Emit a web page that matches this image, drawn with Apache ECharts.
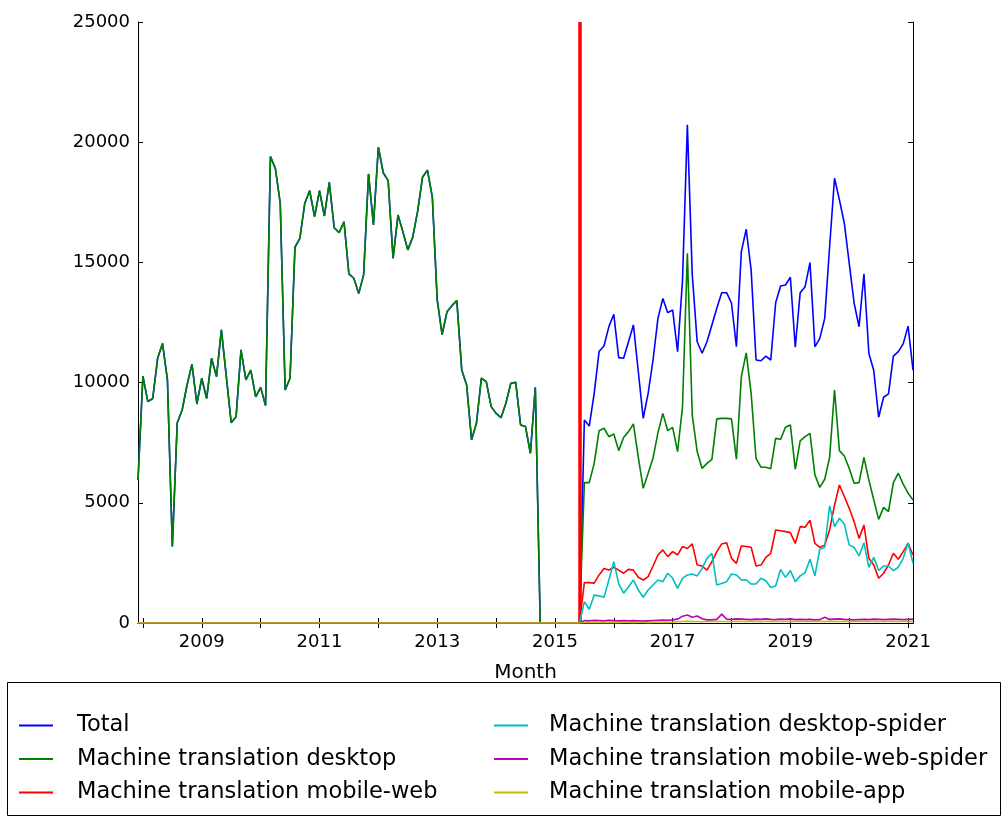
<!DOCTYPE html>
<html>
<head>
<meta charset="utf-8">
<script src="https://cdn.jsdelivr.net/npm/echarts@6/dist/echarts.min.js"></script>
<style>
html,body{margin:0;padding:0;background:#fff;}
#chart{width:1005px;height:819px;}
</style>
</head>
<body>
<div id="chart"></div>
<script>
// ---- categories: monthly, 2007-12 .. 2021-02 ----
const firstYear = 2007, firstMonth = 12, monthCount = 159;
const months = [];
for (let i = 0; i < monthCount; i++) {
  const t = firstYear * 12 + (firstMonth - 1) + i;
  const y = Math.floor(t / 12), m = t % 12 + 1;
  months.push(y + '-' + (m < 10 ? '0' + m : m));
}
const xTickLabels = ['2009', '2011', '2013', '2015', '2017', '2019', '2021'];
const yTicks = [0, 5000, 10000, 15000, 20000, 25000];
const switchMonth = '2015-06';

// legacy statistics (2007-12 .. 2014-09): total == desktop
const legacyViews = [5950, 10270, 9210, 9340, 11010, 11630, 10110, 3180, 8330, 8860, 9900, 10770, 9110,
  10180, 9340, 11010, 10250, 12190, 10260, 8330, 8580, 11360, 10110, 10520, 9410,
  9800, 9050, 19400, 18910, 17460, 9690, 10180, 15630, 16000, 17460, 17980, 16900,
  17980, 16930, 18330, 16440, 16240, 16690, 14520, 14340, 13710, 14480, 18680, 16560,
  19790, 18730, 18400, 15170, 16970, 16280, 15520, 16040, 17110, 18540, 18840, 17730,
  13440, 12000, 12950, 13200, 13410, 10520, 9900, 7620, 8310, 10180, 10040, 9000,
  8720, 8540, 9140, 9970, 10010, 8240, 8170, 7060, 9800];
// 2014-10 .. 2015-06: no views recorded
const gapViews = [0, 0, 0, 0, 0, 0, 0, 0, 0];
// new pageview API, 2015-07 .. 2021-02
const totalNew = [8440, 8190, 9550, 11290, 11520, 12330,
  12840, 11040, 11010, 11700, 12400, 10450, 8510, 9550, 10940, 12670, 13500, 12910,
  13020, 11290, 14200, 20720, 14480, 11700, 11220, 11700, 12400, 13090, 13740, 13740,
  13300, 11490, 15450, 16380, 14680, 10940, 10910, 11100, 10940, 13320, 14020, 14060,
  14380, 11470, 13740, 13990, 14990, 11490, 11840, 12670, 15650, 18500, 17600, 16630,
  14960, 13300, 12330, 14520, 11220, 10500, 8560, 9390, 9530, 11100, 11290, 11610,
  12350, 10520];
const desktopNew = [5840, 5840, 6640, 8000, 8100, 7750,
  7860, 7170, 7720, 7960, 8280, 6890, 5600, 6230, 6850, 7920, 8720, 8000,
  8140, 7130, 8970, 15380, 8650, 7130, 6430, 6640, 6810, 8490, 8510, 8510,
  8490, 6810, 10250, 11240, 9550, 6850, 6480, 6480, 6420, 7680, 7640, 8140,
  8240, 6390, 7580, 7750, 7890, 6160, 5640, 5980, 6890, 9690, 7170, 6950,
  6430, 5810, 5840, 6890, 5950, 5120, 4310, 4810, 4630, 5840, 6230, 5780,
  5400, 5120];
const mobileWebNew = [1680, 1680, 1660, 2000, 2270, 2200,
  2320, 2200, 2070, 2230, 2200, 1900, 1790, 1930, 2370, 2830, 3040, 2760,
  2970, 2830, 3180, 3100, 3290, 2410, 2370, 2200, 2550, 2970, 3290, 3340,
  2690, 2480, 3200, 3180, 3150, 2370, 2410, 2730, 2900, 3870, 3840, 3800,
  3760, 3310, 4010, 3980, 4280, 3310, 3150, 3240, 3870, 4900, 5740, 5260,
  4770, 4210, 3520, 4080, 2690, 2410, 1860, 2070, 2410, 2900, 2650, 2970,
  3310, 2830];
const desktopSpiderNew = [890, 570, 1160, 1130, 1070, 1790,
  2550, 1640, 1240, 1510, 1790, 1370, 1070, 1370, 1580, 1790, 1720, 2070,
  1860, 1440, 1860, 2000, 2040, 1960, 2270, 2690, 2900, 1580, 1640, 1720,
  2040, 2000, 1790, 1800, 1620, 1620, 1860, 1760, 1480, 1540, 2230, 1900,
  2180, 1720, 1960, 2090, 2650, 1960, 3070, 3150, 4870, 4010, 4360, 4120,
  3240, 3150, 2790, 3340, 2320, 2730, 2180, 2370, 2370, 2180, 2320, 2690,
  3340, 2480];
const mobileWebSpiderNew = [100, 90, 110, 100, 90, 110,
  100, 90, 100, 90, 100, 90, 80, 90, 100, 110, 120, 110,
  130, 160, 280, 330, 240, 290, 180, 130, 130, 150, 370, 160,
  150, 170, 160, 150, 140, 160, 150, 170, 150, 140, 160, 150,
  170, 140, 150, 140, 150, 130, 140, 240, 150, 160, 170, 150,
  140, 130, 140, 150, 140, 160, 150, 140, 150, 160, 150, 140,
  150, 160];
const mobileAppNew = [10, 10, 20, 10, 20, 10,
  20, 10, 20, 20, 10, 20, 20, 10, 20, 20, 20, 20,
  30, 50, 60, 70, 60, 60, 50, 60, 60, 70, 60, 60,
  60, 70, 60, 60, 70, 60, 60, 60, 70, 60, 60, 60,
  70, 60, 60, 70, 60, 60, 70, 60, 70, 60, 60, 70,
  60, 60, 70, 60, 60, 70, 60, 60, 70, 60, 60, 70,
  60, 60];
const legacyZeros = new Array(legacyViews.length + gapViews.length).fill(0);

const total = legacyViews.concat(gapViews, totalNew);
const desktop = legacyViews.concat(gapViews, desktopNew);
const mobileWeb = legacyZeros.concat(mobileWebNew);
const desktopSpider = legacyZeros.concat(desktopSpiderNew);
const mobileWebSpider = legacyZeros.concat(mobileWebSpiderNew);
const mobileApp = legacyZeros.concat(mobileAppNew);

const seriesNames = ['Total', 'Machine translation desktop', 'Machine translation mobile-web',
  'Machine translation desktop-spider', 'Machine translation mobile-web-spider', 'Machine translation mobile-app'];
const seriesData = [total, desktop, mobileWeb, desktopSpider, mobileWebSpider, mobileApp];
const seriesColors = ['#0000ff', '#008000', '#ff0000', '#00bfbf', '#bf00bf', '#bfbf00'];

const FONT = 'DejaVu Sans';
const isJan = (idx, val) => val.slice(5) === '01';
const isLabel = (idx, val) => val.slice(5) === '01' && xTickLabels.indexOf(val.slice(0, 4)) >= 0;

const series = seriesNames.map((n, i) => ({
  name: n, type: 'line', data: seriesData[i], symbol: 'none', showSymbol: false,
  lineStyle: { color: seriesColors[i], width: 1.6 }, itemStyle: { color: seriesColors[i] },
  z: 2 + i, animation: false
}));
series[series.length - 1].markLine = {
  silent: true, symbol: ['none', 'none'], animation: false,
  label: { show: false },
  lineStyle: { color: '#ff0000', width: 3.5, type: 'solid' },
  data: [{ xAxis: switchMonth }]
};
series[series.length - 1].z = 20;

const legendCommon = {
  orient: 'vertical', top: 714, padding: 0,
  icon: 'rect', itemWidth: 34, itemHeight: 2, itemGap: 10.5, selectedMode: false
};

const chart = echarts.init(document.getElementById('chart'), null, { renderer: 'canvas' });
chart.setOption({
  animation: false,
  backgroundColor: '#ffffff',
  grid: { left: 138, right: 92, top: 22, bottom: 196, containLabel: false },
  xAxis: [{
    type: 'category', data: months, boundaryGap: false, position: 'bottom',
    name: 'Month', nameLocation: 'middle', nameGap: 40,
    nameTextStyle: { fontFamily: FONT, fontSize: 20, color: '#000' },
    axisLine: { show: true, lineStyle: { color: '#000', width: 1 } },
    axisTick: { show: true, inside: true, length: 5, interval: isJan, lineStyle: { color: '#000' } },
    axisLabel: { interval: isLabel, formatter: v => v.slice(0, 4), fontFamily: FONT, fontSize: 18, color: '#000', margin: 10 },
    splitLine: { show: false }
  }, {
    type: 'category', data: months, boundaryGap: false, position: 'top',
    axisLine: { show: true, lineStyle: { color: '#000', width: 1 } },
    axisTick: { show: true, inside: true, length: 5, interval: isJan, lineStyle: { color: '#000' } },
    axisLabel: { show: false }, splitLine: { show: false }
  }],
  yAxis: [{
    type: 'value', min: yTicks[0], max: yTicks[yTicks.length - 1], interval: yTicks[1] - yTicks[0], position: 'left',
    axisLine: { show: true, lineStyle: { color: '#000', width: 1 } },
    axisTick: { show: true, inside: true, length: 5, lineStyle: { color: '#000' } },
    axisLabel: { fontFamily: FONT, fontSize: 18, color: '#000', margin: 8, formatter: v => String(v) },
    splitLine: { show: false }
  }, {
    type: 'value', min: yTicks[0], max: yTicks[yTicks.length - 1], interval: yTicks[1] - yTicks[0], position: 'right',
    axisLine: { show: true, lineStyle: { color: '#000', width: 1 } },
    axisTick: { show: true, inside: true, length: 5, lineStyle: { color: '#000' } },
    axisLabel: { show: false }, splitLine: { show: false }
  }],
  legend: [Object.assign({}, legendCommon, {
    left: 19, data: seriesNames.slice(0, 3),
    textStyle: { fontFamily: FONT, fontSize: 22.5, color: '#000', padding: [0, 0, 0, 19], lineHeight: 22 }
  }), Object.assign({}, legendCommon, {
    left: 494, data: seriesNames.slice(3),
    textStyle: { fontFamily: FONT, fontSize: 22.5, color: '#000', padding: [0, 0, 0, 16], lineHeight: 22 }
  })],
  graphic: [{
    type: 'rect', left: 5, top: 680, shape: { width: 993, height: 133 },
    style: { fill: 'none', stroke: '#000', lineWidth: 1 }, silent: true
  }],
  series: series
});
</script>
</body>
</html>
